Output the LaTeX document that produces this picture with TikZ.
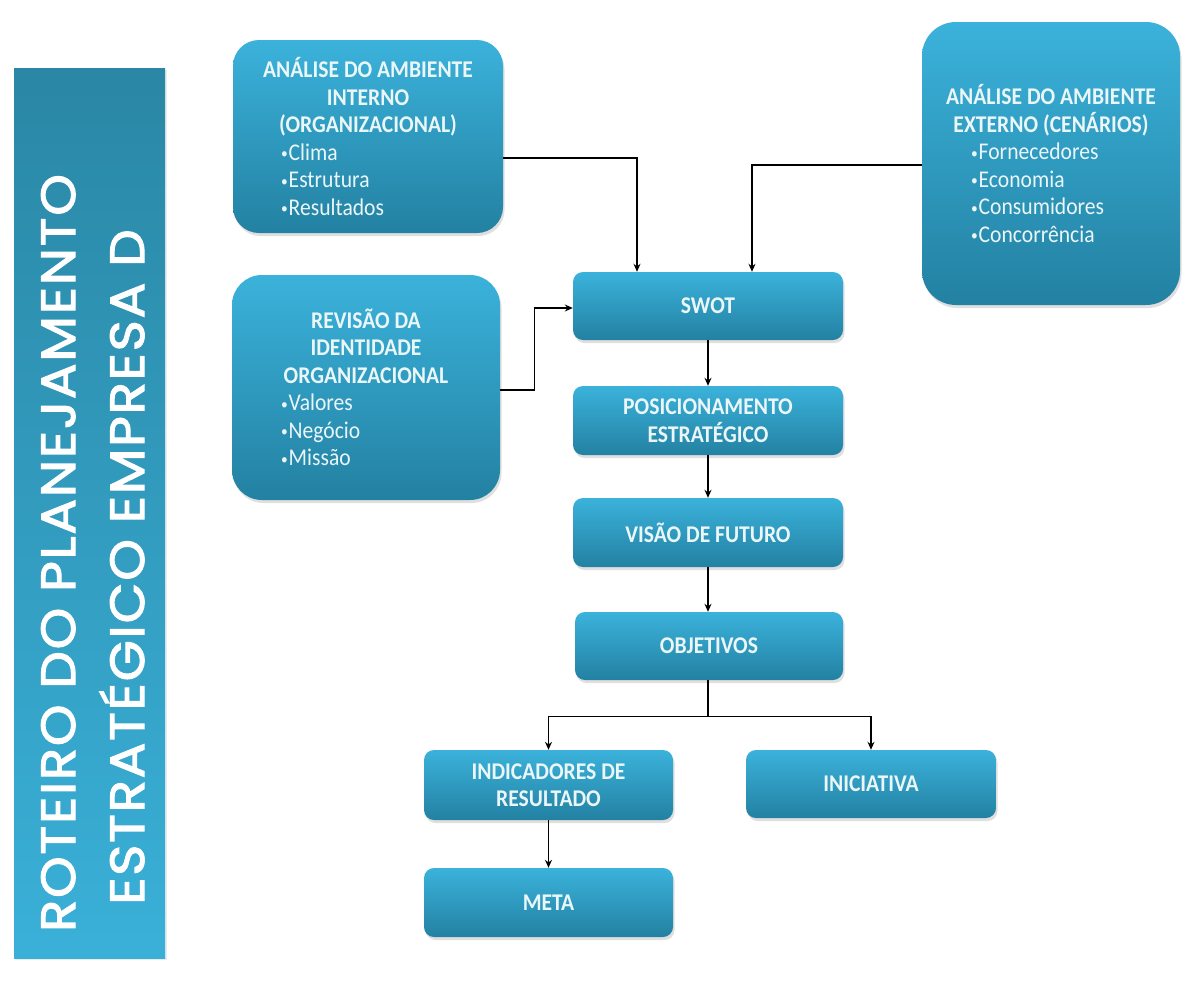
\documentclass[tikz,border=0pt]{standalone}
\usepackage{fontspec}
\setmainfont{Carlito}[FakeStretch=0.9]
\newfontfamily\bannerfont{Poppins}[FakeStretch=1.1,LetterSpace=4,FakeBold=2.5]
\usetikzlibrary{arrows.meta,shadows}

\definecolor{boxtop}{HTML}{3BB2DB}
\definecolor{boxbot}{HTML}{2381A2}
\definecolor{bantop}{HTML}{2A87A5}
\definecolor{banbot}{HTML}{3AB0D8}
\definecolor{boxtext}{HTML}{EAF6F8}

% bullet list line of fixed width, left aligned
\newcommand{\itm}[2]{\makebox[#1][l]{\mdseries\raisebox{1.5pt}{\fontsize{15}{15}\selectfont\textbullet}\hspace{1pt}#2}}

\begin{document}
\begin{tikzpicture}[x=1pt,y=-1pt,
  card/.style={rounded corners=#1, top color=boxtop, bottom color=boxbot,
    draw=none, text=boxtext, align=center, inner sep=0pt,
    font=\bfseries\fontsize{24}{27.5}\selectfont,
    drop shadow={shadow xshift=1.5pt, shadow yshift=-3pt, opacity=0.35, fill=gray!70}},
  card/.default=10pt,
  titletext/.style={rotate=90, text=white, inner sep=0pt,
    font=\bannerfont\fontsize{48}{48}\selectfont},
  link/.style={-{Stealth[length=8pt,width=7pt]}, line width=1.3pt, draw=black}
]
\useasboundingbox (0,0) rectangle (1192,991);
\fill[white] (0,0) rectangle (1192,991);

% title banner
\node[rectangle, top color=bantop, bottom color=banbot, draw=none,
  minimum width=151pt, minimum height=890pt, inner sep=0pt,
  drop shadow={shadow xshift=1.5pt, shadow yshift=-2pt, opacity=0.25, fill=gray!60}]
  (banner) at (89.5,513) {};
\node[titletext, anchor=base] (title1) at (75,553) {ROTEIRO DO PLANEJAMENTO};
\node[titletext, anchor=base] (title2) at (144,567) {ESTRATÉGICO EMPRESA D};

% analysis boxes
\node[card=26pt, minimum width=270pt, minimum height=193pt] (int) at (368,136.5)
  {ANÁLISE DO AMBIENTE\\INTERNO\\(ORGANIZACIONAL)\\
   \itm{174pt}{Clima}\\\itm{174pt}{Estrutura}\\\itm{174pt}{Resultados}};
\node[card=34pt, minimum width=258pt, minimum height=283pt] (ext) at (1051,163.5)
  {ANÁLISE DO AMBIENTE\\EXTERNO (CENÁRIOS)\\
   \itm{160pt}{Fornecedores}\\\itm{160pt}{Economia}\\\itm{160pt}{Consumidores}\\\itm{160pt}{Concorrência}};
\node[card=30pt, minimum width=268pt, minimum height=225pt] (rev) at (366,387.5)
  {REVISÃO DA\\IDENTIDADE\\ORGANIZACIONAL\\
   \itm{170pt}{Valores}\\\itm{170pt}{Negócio}\\\itm{170pt}{Missão}};

% main chain
\node[card, minimum width=270pt, minimum height=68pt] (swot) at (708,306) {SWOT};
\node[card, minimum width=270pt, minimum height=69pt] (pos) at (708,420.5) {POSICIONAMENTO\\ESTRATÉGICO};
\node[card, minimum width=270pt, minimum height=69pt] (vis) at (708,532.5) {VISÃO DE FUTURO};
\node[card, minimum width=268pt, minimum height=68pt] (obj) at (709,646) {OBJETIVOS};
\node[card, minimum width=249pt, minimum height=70pt] (ind) at (548.5,785) {INDICADORES DE\\RESULTADO};
\node[card, minimum width=250pt, minimum height=68pt] (ini) at (871,784) {INICIATIVA};
\node[card, minimum width=249pt, minimum height=69pt] (meta) at (548.5,902.5) {META};

% connectors
\draw[link] ([yshift=-21.5pt]int.east) -| ([xshift=-71pt]swot.north);
\draw[link] ([yshift=-1.5pt]ext.west) -| ([xshift=44pt]swot.north);
\draw[link] ([yshift=-2.5pt]rev.east) -- ++(34,0) |- ([yshift=-2pt]swot.west);
\draw[link] (swot.south) -- (pos.north);
\draw[link] (pos.south) -- (vis.north);
\draw[link] (vis.south) -- ([xshift=-1pt]obj.north);
\draw[line width=1.3pt] ([xshift=-1pt]obj.south) -- ++(0,36) coordinate (split);
\draw[link] (split) -| (ind.north);
\draw[link] (split) -| (ini.north);
\draw[link] (ind.south) -- (meta.north);
\end{tikzpicture}
\end{document}
